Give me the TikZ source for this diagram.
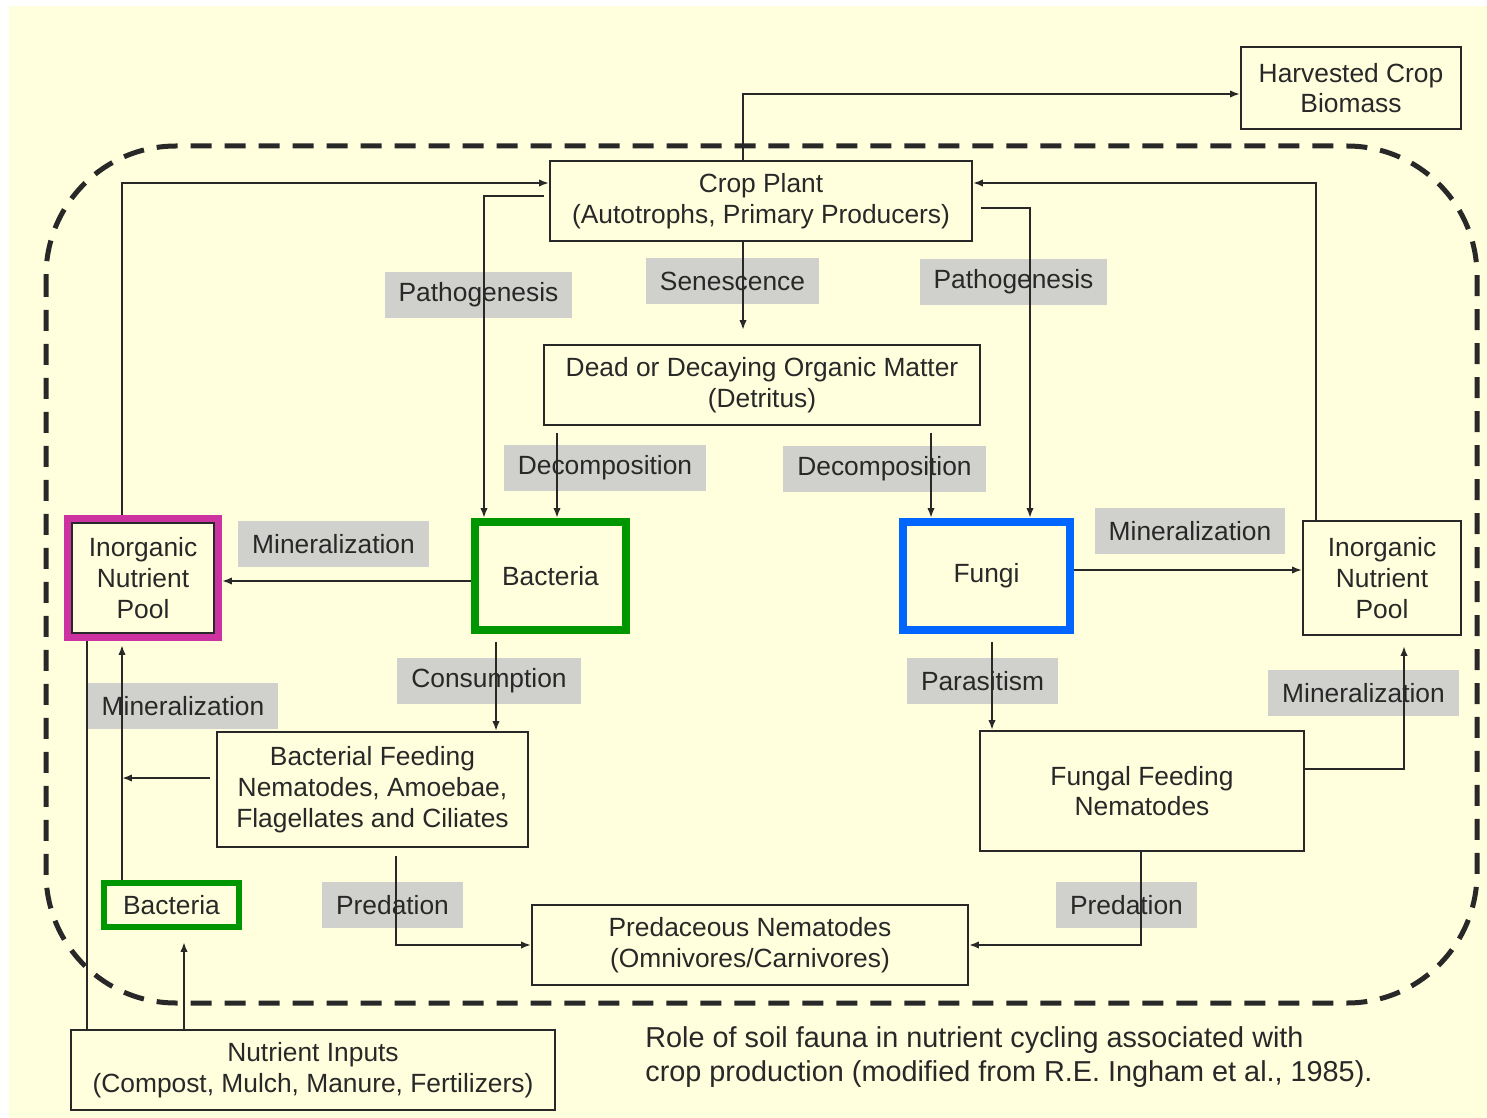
\documentclass[tikz,border=0pt]{standalone}
\usepackage{fontspec}
\setmainfont{Liberation Sans}
\usetikzlibrary{arrows.meta}

\definecolor{paper}{RGB}{255,255,221}
\definecolor{tagfill}{RGB}{208,208,204}
\definecolor{ink}{RGB}{40,40,40}
\definecolor{poolpink}{RGB}{204,51,160}
\definecolor{bactgreen}{RGB}{0,150,0}
\definecolor{fungblue}{RGB}{0,102,255}

\begin{document}
\begin{tikzpicture}[x=0.02cm,y=-0.02cm,
    box/.style={draw=ink,line width=0.04cm,align=center,text=ink,inner sep=0pt,
                font=\fontsize{15}{17.5}\selectfont},
    tag/.style={fill=tagfill,text=ink,inner xsep=0.28cm,minimum height=0.92cm,
                font=\fontsize{15}{17.5}\selectfont},
    arr/.style={draw=ink,line width=0.04cm,-{Latex[length=0.2cm,width=0.15cm]}},
    wire/.style={draw=ink,line width=0.04cm}]
    \useasboundingbox (0,0) rectangle (1487,1118);
    \fill[white] (0,0) rectangle (1487,1118);
    \fill[paper] (9,6) rectangle (1487,1118);
    %\draw[help lines,step=100] (0,0) grid (1487,1118);

    % process labels (drawn first, the arrows run over them)
    \node[tag] (pathL)  at (478.5,295) {Pathogenesis};
    \node[tag] (senes)  at (732.5,281) {Senescence};
    \node[tag] (pathR)  at (1013.5,282) {Pathogenesis};
    \node[tag] (decL)   at (605,468) {Decomposition};
    \node[tag] (decR)   at (884.5,469) {Decomposition};
    \node[tag] (minA)   at (333.5,544) {Mineralization};
    \node[tag] (minB)   at (1190,531) {Mineralization};
    \node[tag] (minC)   at (183,706) {Mineralization};
    \node[tag] (consum) at (489,681) {Consumption};
    \node[tag] (paras)  at (982.5,681) {Parasitism};
    \node[tag] (minD)   at (1363.5,693) {Mineralization};
    \node[tag] (predL)  at (392.5,905) {Predation};
    \node[tag] (predR)  at (1126.5,905) {Predation};

    % pools and organisms
    \node[box,minimum width=4.4cm,minimum height=1.64cm] (harv) at (1351,88) {Harvested Crop\\Biomass};
    \node[box,minimum width=8.44cm,minimum height=1.6cm] (crop) at (761,201) {Crop Plant\\(Autotrophs, Primary Producers)};
    \node[box,minimum width=8.72cm,minimum height=1.6cm] (dead) at (762,385) {Dead or Decaying Organic Matter\\(Detritus)};
    \node[box,draw=poolpink,line width=0.14cm,minimum width=3.02cm,minimum height=2.38cm] (poolL) at (143,578) {Inorganic\\Nutrient\\Pool};
    \draw[wire] ([shift={(0.155cm,-0.155cm)}]poolL.north west) rectangle ([shift={(-0.155cm,0.155cm)}]poolL.south east);
    \node[box,draw=bactgreen,line width=0.16cm,minimum width=3.02cm,minimum height=2.16cm] (bactA) at (550.5,576) {Bacteria};
    \node[box,draw=fungblue,line width=0.16cm,minimum width=3.34cm,minimum height=2.16cm] (fungi) at (986.5,576) {Fungi};
    \node[box,minimum width=3.16cm,minimum height=2.28cm] (poolR) at (1382,578) {Inorganic\\Nutrient\\Pool};
    \node[box,minimum width=6.22cm,minimum height=2.3cm] (bfeed) at (372.5,789.5) {Bacterial Feeding\\Nematodes, Amoebae,\\Flagellates and Ciliates};
    \node[box,minimum width=6.48cm,minimum height=2.4cm] (ffeed) at (1142,791) {Fungal Feeding\\Nematodes};
    \node[box,minimum width=8.72cm,minimum height=1.6cm] (pred) at (750,945) {Predaceous Nematodes\\(Omnivores/Carnivores)};
    \node[box,draw=bactgreen,line width=0.12cm,minimum width=2.7cm,minimum height=0.88cm] (bactB) at (171.5,905) {Bacteria};
    \node[box,minimum width=9.68cm,minimum height=1.6cm] (inputs) at (313,1070) {Nutrient Inputs\\(Compost, Mulch, Manure, Fertilizers)};

    % soil boundary
    \draw[ink,line width=0.1cm,dash pattern=on 0.42cm off 0.26cm,rounded corners=2.6cm]
        (46,146) rectangle (1477,1003);

    \coordinate (trunk) at (122,778);

    % flows
    \draw[arr] (crop.north -| 743,0) |- ([yshift=-0.12cm]harv.west);
    \draw[arr] (poolL.north -| trunk) |- ([yshift=0.36cm]crop.west);
    \draw[arr] ([shift={(-0.1cm,0.1cm)}]crop.west) -| (484,0 |- bactA.north);
    \draw[arr,shorten >=0.28cm] (crop.south -| 743,0) -- (dead.north -| 743,0);
    \draw[arr] ([shift={(0.16cm,-0.14cm)}]crop.east) -| (1030,0 |- fungi.north);
    \draw[arr] (poolR.north -| 1316,0) |- ([yshift=0.36cm]crop.east);
    \draw[arr,shorten <=0.14cm] (dead.south -| 557,0) -- (557,0 |- bactA.north);
    \draw[arr,shorten <=0.14cm] (dead.south -| 931,0) -- (931,0 |- fungi.north);
    \draw[arr] (bactA.west |- 0,581) -- (poolL.east |- 0,581);
    \draw[arr] (fungi.east |- 0,570) -- (poolR.west |- 0,570);
    \draw[arr,shorten <=0.16cm] (496,0 |- bactA.south) -- (496,0 |- bfeed.north);
    \draw[arr,shorten <=0.16cm] (992,0 |- fungi.south) -- (992,0 |- ffeed.north);
    \draw[arr,shorten <=0.12cm] (bfeed.west |- trunk) -- (trunk);
    \draw[arr,shorten >=0.08cm] (bactB.north -| trunk) -- (poolL.south -| trunk);
    \draw[arr,shorten >=0.24cm] (inputs.north -| 184,0) -- (bactB.south -| 184,0);
    \draw[wire] (inputs.north -| 87,0) -- (poolL.south -| 87,0);
    \draw[arr,shorten >=0.2cm] (ffeed.east |- 0,769) -| (poolR.south -| 1404,0);
    \draw[arr,shorten <=0.16cm] (bfeed.south -| 396,0) |- (pred.west);
    \draw[arr] (ffeed.south -| 1141,0) |- (pred.east);

    \node[anchor=west,align=left,inner sep=0pt,text=ink,font=\fontsize{16.4}{19.8}\selectfont] (caption)
        at (645,1057) {Role of soil fauna in nutrient cycling associated with\\crop production (modified from R.E. Ingham et al., 1985).};
\end{tikzpicture}
\end{document}
